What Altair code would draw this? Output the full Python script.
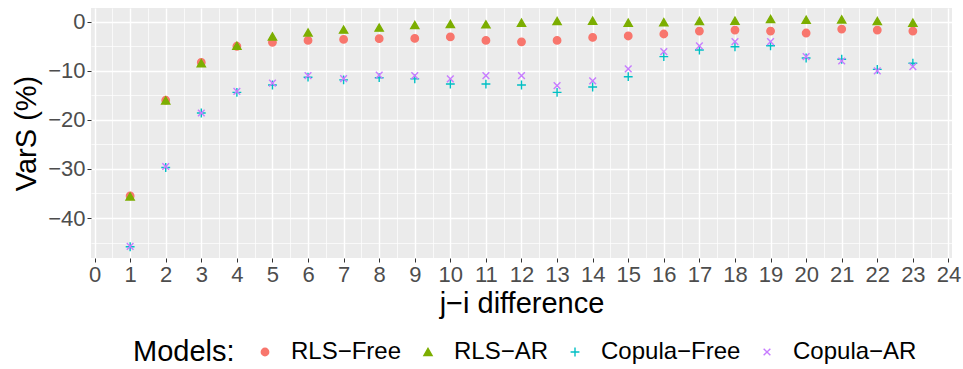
import altair as alt
import pandas as pd

# lag between the two indices
lags = list(range(1, 24))

# VarS (%) per model
rls_free = [-35.5, -16.0, -8.3, -5.0, -4.2, -3.8, -3.6, -3.45, -3.4, -3.1, -3.8, -4.1,
            -3.8, -3.2, -2.9, -2.5, -1.9, -1.7, -1.9, -2.3, -1.5, -1.7, -1.9]
rls_ar = [-35.6, -16.05, -8.46, -4.9, -3.0, -2.2, -1.6, -1.2, -0.67, -0.47, -0.53, -0.2,
          0.14, 0.2, -0.2, -0.1, 0.14, 0.2, 0.55, 0.4, 0.47, 0.14, -0.2]
copula_free = [-45.85, -29.7, -18.6, -14.4, -12.9, -11.3, -11.85, -11.4, -11.65, -12.7, -12.7, -12.9,
               -14.4, -13.3, -11.2, -7.1, -5.75, -5.1, -4.9, -7.4, -7.65, -9.7, -8.46]
copula_ar = [-45.8, -29.5, -18.6, -14.2, -12.5, -11.0, -11.6, -10.9, -11.0, -11.65, -11.0, -11.0,
             -13.0, -12.05, -9.6, -6.1, -4.9, -4.07, -4.07, -7.1, -8.0, -10.0, -9.15]

models = ["RLS\u2212Free", "RLS\u2212AR", "Copula\u2212Free", "Copula\u2212AR"]
colors = ["#F8766D", "#7CAE00", "#00BFC4", "#C77CFF"]
fills = ["#F8766D", "#7CAE00", "transparent", "transparent"]
plus_path = "M-1,0H1M0,-1V1"
x_path = "M-0.707,-0.707L0.707,0.707M-0.707,0.707L0.707,-0.707"
shapes = ["circle", "triangle-up", plus_path, x_path]
sizes = [55, 90, 190, 200]

x_ticks = list(range(0, 25))
x_minor = [v + 0.5 for v in range(0, 24)]
y_ticks = [0, -10, -20, -30, -40]
y_minor = [-5, -15, -25, -35, -45]

rows = []
for name, vals in zip(models, [rls_free, rls_ar, copula_free, copula_ar]):
    for lag, v in zip(lags, vals):
        rows.append({"lag": lag, "vars": v, "model": name})
df = pd.DataFrame(rows)

font = "Liberation Sans"
x_scale = alt.Scale(domain=[-0.1, 24.1], nice=False, zero=False)
y_scale = alt.Scale(domain=[-48.15, 2.8], nice=False, zero=False)

legend = alt.Legend(
    title="Models:", orient="none", legendX=42, legendY=332, direction="horizontal",
    titleOrient="left", titleFontSize=29, titleFontWeight="normal", titleColor="black",
    titleFont=font, titlePadding=18, labelFont=font, labelFontSize=24, labelColor="black",
    labelOffset=14, columnPadding=14, symbolStrokeWidth=1.4,
)

points = alt.Chart(df).mark_point(filled=False, opacity=1, strokeWidth=1.4).encode(
    x=alt.X("lag:Q", scale=x_scale, axis=alt.Axis(
        values=x_ticks, title="j\u2212i difference", format="d",
        grid=True, gridColor="white", gridWidth=1.4,
        domain=False, ticks=True, tickSize=4, tickColor="#333333", tickWidth=1,
        labelFont=font, labelFontSize=22, labelColor="#4D4D4D", labelPadding=2,
        titleFont=font, titleFontSize=29, titleFontWeight="normal", titleColor="black",
        titlePadding=4, labelFlush=False,
    )),
    y=alt.Y("vars:Q", scale=y_scale, axis=alt.Axis(
        values=y_ticks, title="VarS (%)", format="d",
        grid=True, gridColor="white", gridWidth=1.4,
        domain=False, ticks=True, tickSize=4, tickColor="#333333", tickWidth=1,
        labelFont=font, labelFontSize=22, labelColor="#4D4D4D", labelPadding=2,
        titleFont=font, titleFontSize=29, titleFontWeight="normal", titleColor="black",
        titlePadding=6, labelFlush=False,
    )),
    color=alt.Color("model:N", scale=alt.Scale(domain=models, range=colors), legend=legend),
    fill=alt.Fill("model:N", scale=alt.Scale(domain=models, range=fills), legend=legend),
    shape=alt.Shape("model:N", scale=alt.Scale(domain=models, range=shapes), legend=legend),
    size=alt.Size("model:N", scale=alt.Scale(domain=models, range=sizes), legend=legend),
    order=alt.Order("idx:Q"),
).transform_calculate(
    idx="indexof(['" + "','".join(models) + "'], datum.model) * 100 + datum.lag"
)

# thinner half-step grid lines
minor = alt.Chart(df).mark_point(opacity=0).encode(
    x=alt.X("lag:Q", scale=x_scale, axis=alt.Axis(
        values=x_minor, title=None, labels=False, ticks=False, domain=False,
        grid=True, gridColor="white", gridWidth=0.7)),
    y=alt.Y("vars:Q", scale=y_scale, axis=alt.Axis(
        values=y_minor, title=None, labels=False, ticks=False, domain=False,
        grid=True, gridColor="white", gridWidth=0.7)),
)

chart = alt.layer(points, minor).resolve_axis(
    x="independent", y="independent"
).properties(
    width=861, height=250,
    autosize=alt.AutoSizeParams(type="none"),
    padding={"left": 91, "top": 8, "right": 11, "bottom": 111},
    background="white",
).configure_view(
    fill="#EBEBEB", stroke=None
)

chart.save("out.html", embed_options={"renderer": "svg", "actions": False})
